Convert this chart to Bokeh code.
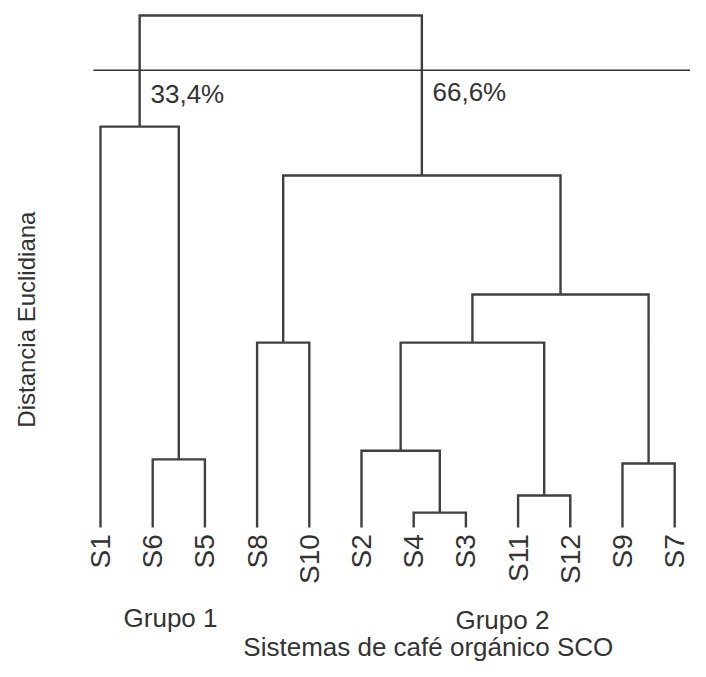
import math
from bokeh.plotting import figure
from bokeh.models import Range1d
from bokeh.core.properties import value
from bokeh.embed import file_html
from bokeh.resources import INLINE

# ---- data ----
leaves = ["S1", "S6", "S5", "S8", "S10", "S2", "S4", "S3", "S11", "S12", "S9", "S7"]
# merges: (left cluster id, right cluster id, height); leaf ids 0..11, new ids from 12
merge_left = [6, 8, 10, 1, 5, 3, 16, 18, 17, 0, 21]
merge_right = [7, 9, 11, 2, 12, 4, 13, 14, 19, 15, 20]
merge_height = [2.9, 6.25, 12.5, 13.3, 15.0, 36.1, 36.1, 45.5, 68.75, 78.3, 100.0]
cut_height = 89.3
cut_labels = ["33,4%", "66,6%"]
group_labels = ["Grupo 1", "Grupo 2"]
x_title = "Sistemas de café orgánico SCO"
y_title = "Distancia Euclidiana"

FONT = value("Liberation Sans")
LINE = "#404040"
TXT = "#333333"

p = figure(width=690, height=661, output_backend="svg", toolbar_location=None,
           x_range=Range1d(-1.916, 11.303), y_range=Range1d(-26.17, 102.93),
           min_border=0)
p.axis.visible = False
p.grid.visible = False
p.outline_line_color = None
p.background_fill_color = "white"
p.border_fill_color = "white"

# compute node positions
pos = {i: (float(i), 0.0) for i in range(len(leaves))}
xs, ys = [], []
for k, (a, b, h) in enumerate(zip(merge_left, merge_right, merge_height)):
    xa, ha = pos[a]
    xb, hb = pos[b]
    xs.append([xa, xa, xb, xb])
    ys.append([ha, h, h, hb])
    pos[len(leaves) + k] = ((xa + xb) / 2.0, h)

p.multi_line(xs, ys, line_color=LINE, line_width=2.4, line_join="miter")

# cut line
p.segment(x0=[-0.134], y0=[cut_height], x1=[12.0], y1=[cut_height],
          line_color="#333333", line_width=1.5)

# leaf labels
p.text(x=list(range(len(leaves))), y=[-1.3] * len(leaves), text=leaves,
       angle=math.pi / 2, text_align="right", text_baseline="middle",
       text_font=FONT, text_font_size="28px", text_color=TXT)

# cut percentages
p.text(x=[0.958, 6.36], y=[84.6, 85.0], text=cut_labels,
       text_align="left", text_baseline="middle",
       text_font=FONT, text_font_size="26px", text_color=TXT)

# group labels
p.text(x=[1.341, 7.70], y=[-17.6, -18.0], text=group_labels,
       text_align="center", text_baseline="middle",
       text_font=FONT, text_font_size="26px", text_color=TXT)

# x title
p.text(x=[6.28], y=[-23.4], text=[x_title],
       text_align="center", text_baseline="middle",
       text_font=FONT, text_font_size="26px", text_color=TXT)

# y title
p.text(x=[-1.418], y=[40.6], text=[y_title], angle=math.pi / 2,
       text_align="center", text_baseline="middle",
       text_font=FONT, text_font_size="24px", text_color=TXT)

open("out.html", "w").write(file_html(p, INLINE))
